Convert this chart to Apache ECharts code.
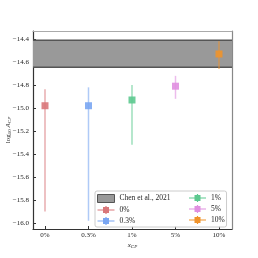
<!DOCTYPE html>
<html><head><meta charset="utf-8">
<script src="https://cdn.jsdelivr.net/npm/echarts@6/dist/echarts.min.js"></script>
<style>html,body{margin:0;padding:0;background:#fff}#c{width:258px;height:258px}</style>
</head><body><div id="c"></div>
<script>
// ---- data ----
const categories = ['0%', '0.3%', '1%', '5%', '10%'];
const centers = [-14.98, -14.98, -14.93, -14.81, -14.53];
const lows    = [-15.90, -15.98, -15.32, -14.92, -14.66];
const highs   = [-14.836, -14.82, -14.80, -14.72, -14.42];
const bandRange = [-14.645, -14.41];   // Chen et al., 2021
const bandName = 'Chen et al., 2021';
const colors = ['#d9777a', '#7aa6f2', '#5cc98f', '#e08fe0', '#f0932b'];

const serif = 'Liberation Serif';
const chart = echarts.init(document.getElementById('c'), null, {renderer: 'canvas'});

const errSeries = categories.map((c, i) => ({
  name: c,
  type: 'custom',
  z: 3,
  itemStyle: {color: colors[i]},
  data: [[i, centers[i], lows[i], highs[i]]],
  renderItem: function (params, api) {
    const x = api.value(0);
    const pc = api.coord([x, api.value(1)]);
    const pl = api.coord([x, api.value(2)]);
    const ph = api.coord([x, api.value(3)]);
    const col = api.visual('color');
    const s = 7;
    return {
      type: 'group',
      children: [
        {type: 'line', shape: {x1: pc[0], y1: pl[1], x2: pc[0], y2: ph[1]},
         style: {stroke: col, lineWidth: 1.5, opacity: 0.6}},
        {type: 'rect', shape: {x: pc[0] - s / 2, y: pc[1] - s / 2, width: s, height: s},
         style: {fill: col, opacity: 0.9}}
      ]
    };
  }
}));

const bandSeries = {
  name: bandName,
  type: 'custom',
  z: 1,
  itemStyle: {color: '#999999', borderColor: '#555555'},
  data: [[0, bandRange[0], bandRange[1]]],
  renderItem: function (params, api) {
    const cs = params.coordSys;
    const yl = api.coord([0, api.value(1)])[1];
    const yh = api.coord([0, api.value(2)])[1];
    return {
      type: 'group',
      children: [
        {type: 'rect', shape: {x: cs.x, y: yh, width: cs.width, height: yl - yh},
         style: {fill: '#999999'}},
        {type: 'line', shape: {x1: cs.x, y1: yh, x2: cs.x + cs.width, y2: yh},
         style: {stroke: '#555555', lineWidth: 1.5}},
        {type: 'line', shape: {x1: cs.x, y1: yl, x2: cs.x + cs.width, y2: yl},
         style: {stroke: '#555555', lineWidth: 1.5}}
      ]
    };
  }
};

const errIcon = 'path://M0,3.4H17V4.6H0Z M5.5,1H11.5V7H5.5Z M7.9,0H9.1V8H7.9Z';
const legendCol1 = [
  {name: bandName, icon: 'rect', itemStyle: {color: '#999999', borderColor: '#555555', borderWidth: 1}},
  {name: categories[0], icon: errIcon},
  {name: categories[1], icon: errIcon}
];
const legendCol2 = [
  {name: categories[2], icon: errIcon},
  {name: categories[3], icon: errIcon},
  {name: categories[4], icon: errIcon}
];
const legendCommon = {
  orient: 'vertical', itemGap: 3, itemWidth: 17, itemHeight: 8,
  textStyle: {fontFamily: serif, fontSize: 7.5, color: '#222'},
  itemStyle: {borderWidth: 0}
};

const yfmt = v => (v < 0 ? '\u2212' : '') + Math.abs(v).toFixed(1);

chart.setOption({
  animation: false,
  backgroundColor: '#ffffff',
  grid: {left: 33, right: 26, top: 31, bottom: 29, containLabel: false, outerBoundsMode: 'none'},
  xAxis: [{
    type: 'value', min: -0.276, max: 4.299, splitNumber: 5,
    axisLine: {onZero: false, lineStyle: {color: '#333', width: 1.2}},
    axisTick: {inside: true, length: 3, lineStyle: {color: '#333'}},
    splitLine: {show: false},
    axisLabel: {showMinLabel: false, showMaxLabel: false, margin: 3,
      fontFamily: serif, fontSize: 7, color: '#222',
      formatter: v => (Number.isInteger(v) && v >= 0 && v < categories.length) ? categories[v] : ''},
    name: '{i|x}{s|CP}', nameLocation: 'middle', nameGap: 12, nameMoveOverlap: false,
    nameTextStyle: {rich: {
      i: {fontFamily: serif, fontStyle: 'italic', fontSize: 7, color: '#222'},
      s: {fontFamily: serif, fontStyle: 'italic', fontSize: 5, color: '#222', padding: [3, 0, 0, 0]}
    }}
  }, {
    type: 'value', position: 'top', min: -0.276, max: 4.299,
    axisLine: {show: true, onZero: false, lineStyle: {color: '#aaaaaa', width: 1.2}},
    axisTick: {show: false}, axisLabel: {show: false}, splitLine: {show: false}
  }],
  yAxis: [{
    type: 'value', min: -16.052, max: -14.33, splitNumber: 8,
    axisLine: {show: true, onZero: false, lineStyle: {color: '#333', width: 1.2}},
    axisTick: {show: true, inside: true, length: 3, lineStyle: {color: '#333'}},
    splitLine: {show: false},
    axisLabel: {showMinLabel: false, showMaxLabel: false, margin: 4,
      fontFamily: serif, fontSize: 7, color: '#222', formatter: yfmt},
    name: '{a|log}{s|10}{a| }{i|A}{t|CP}', nameLocation: 'middle', nameGap: 21, nameRotate: 90,
    nameMoveOverlap: false,
    nameTextStyle: {rich: {
      a: {fontFamily: serif, fontSize: 7, color: '#222'},
      s: {fontFamily: serif, fontSize: 5, color: '#222', padding: [3, 0, 0, 0]},
      i: {fontFamily: serif, fontStyle: 'italic', fontSize: 7, color: '#222'},
      t: {fontFamily: serif, fontStyle: 'italic', fontSize: 5, color: '#222', padding: [3, 0, 0, 0]}
    }}
  }, {
    type: 'value', position: 'right', min: -16.052, max: -14.33,
    axisLine: {show: true, onZero: false, lineStyle: {color: '#888888', width: 1.2}},
    axisTick: {show: false}, axisLabel: {show: false}, splitLine: {show: false}
  }],
  legend: [
    Object.assign({}, legendCommon, {
      left: 95, top: 191, padding: [3, 56, 2, 2], z: 10,
      backgroundColor: 'rgba(255,255,255,0.85)', borderColor: '#cccccc', borderWidth: 1, borderRadius: 2,
      data: legendCol1
    }),
    Object.assign({}, legendCommon, {
      left: 187, top: 191, padding: [3, 2, 2, 2], z: 11,
      data: legendCol2
    })
  ],
  series: [bandSeries].concat(errSeries)
});
</script>
</body></html>
